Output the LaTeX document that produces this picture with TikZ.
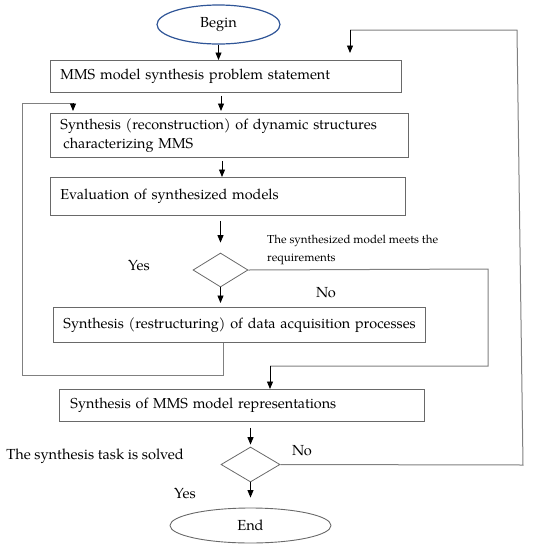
\documentclass[tikz,border=0pt]{standalone}
\usepackage{fontspec}
\setmainfont{TeX Gyre Pagella}
\usetikzlibrary{shapes.geometric,arrows.meta}
\definecolor{lg}{RGB}{128,128,128}
\definecolor{bx}{RGB}{105,105,105}
\definecolor{bl}{RGB}{47,85,151}
\begin{document}
\begin{tikzpicture}[x=1pt,y=-1pt,
  box/.style={draw=bx, line width=0.9pt, rectangle, anchor=north west, inner xsep=10pt, inner ysep=0pt, align=left, font=\fontsize{14.4}{19}\selectfont},
  ln/.style={draw=lg, line width=1pt},
  arr/.style={draw=black, line width=0.9pt, -{Triangle[length=7.5pt,width=6pt]}},
  dia/.style={diamond, draw=bx, line width=0.8pt, inner sep=0pt},
  lbl/.style={font=\fontsize{14.6}{18}\selectfont, inner sep=0pt},
  small/.style={font=\fontsize{11.6}{18}\selectfont, inner sep=0pt, align=left}]
\useasboundingbox (0,0) rectangle (533,550);
% nodes
\node[ellipse, draw=bl, line width=1.2pt, minimum width=123pt, minimum height=39pt, lbl] (begin) at (218.5,24.5) {Begin};
\node[box, minimum height=32pt, text width=331pt] (b1) at (50,60) {MMS model synthesis problem statement};
\node[box, minimum height=44pt, text width=338pt] (b2) at (50,113) {Synthesis (reconstruction) of dynamic structures\\\hspace*{3pt}characterizing MMS};
\node[box, minimum height=38pt, text width=335pt] (b3) at (50,177) {Evaluation of synthesized models};
\node[dia, minimum width=55pt, minimum height=34pt] (d1) at (220.5,270) {};
\node[box, inner xsep=10pt, minimum height=35pt, text width=352pt] (b4) at (53,307) {\mbox{Synthesis (restructuring) of data acquisition processes}};
\node[box, inner xsep=11pt, minimum height=32pt, text width=343pt] (b5) at (59,389) {Synthesis of MMS model representations};
\node[dia, minimum width=59pt, minimum height=35pt] (d2) at (250.5,464.5) {};
\node[ellipse, draw=bx, line width=0.9pt, minimum width=161pt, minimum height=35pt, lbl] (end) at (250.5,525.5) {End};
% labels
\node[lbl] (yes1) at (139,265) {Yes};
\node[small, anchor=west] (req) at (267,250) {The synthesized model meets the\\requirements};
\node[lbl] (no1) at (326,293) {No};
\node[lbl] (task) at (95,456) {The synthesis task is solved};
\node[lbl] (no2) at (302,451) {No};
\node[lbl] (yes2) at (185,493) {Yes};
% helper coordinates
\coordinate (x221) at (221,0);
\coordinate (x222) at (222,0);
\coordinate (x223) at (223,0);
\coordinate (r1) at (488,269);
\coordinate (r2) at (488,366);
\coordinate (r3) at (270,366);
\coordinate (l1) at (22,375);
\coordinate (l2) at (22,103);
\coordinate (l3) at (73,103);
\coordinate (t1) at (523,465);
\coordinate (t2) at (517,30);
\coordinate (t3) at (350,30);
% main arrows
\draw[arr] (begin.south) -- (begin.south |- b1.north);
\draw[arr, shorten <=3pt, shorten >=2pt] (b1.south -| x221) -- (b2.north -| x221);
\draw[arr, shorten <=3pt] (b2.south -| x222) -- (b3.north -| x222);
\draw[arr, shorten <=5pt, shorten >=10pt] (b3.south -| d1.north) -- (d1.north);
\draw[arr, shorten >=4pt] (d1.south) -- (b4.north -| d1.south);
\draw[arr, shorten <=6pt, shorten >=2pt] (b5.south -| d2.north) -- (d2.north);
\draw[arr, shorten >=10pt] (d2.south) -- (end.north);
% loops
\draw[ln] (d1.east) -- (r1) -- (r2) -- (r3);
\draw[arr] (r3) -- (r3 |- b5.north);
\draw[ln] (b4.south -| x223) -- (x223 |- l1) -- (l1) -- (l2) -- (l3);
\draw[arr, shorten >=2pt] (l3) -- (l3 |- b2.north);
\draw[ln] (d2.east) -- (t1) -- (t2) -- (t3);
\draw[arr, shorten >=7pt] (t3) -- (t3 |- b1.north);
\end{tikzpicture}
\end{document}
